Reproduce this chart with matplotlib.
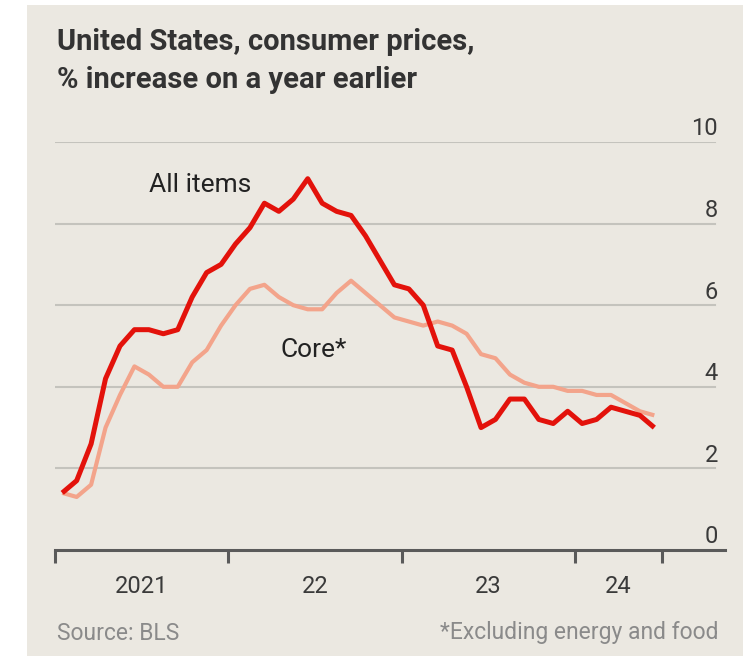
import matplotlib
matplotlib.use("Agg")
import matplotlib.pyplot as plt
from matplotlib.patches import Rectangle
from matplotlib import font_manager

# ---- data ----
start_year = 2021
all_items = [1.4, 1.7, 2.6, 4.2, 5.0, 5.4, 5.4, 5.3, 5.4, 6.2, 6.8, 7.0,
             7.5, 7.9, 8.5, 8.3, 8.6, 9.1, 8.5, 8.3, 8.2, 7.7, 7.1, 6.5,
             6.4, 6.0, 5.0, 4.9, 4.0, 3.0, 3.2, 3.7, 3.7, 3.2, 3.1, 3.4,
             3.1, 3.2, 3.5, 3.4, 3.3, 3.0]
core = [1.4, 1.3, 1.6, 3.0, 3.8, 4.5, 4.3, 4.0, 4.0, 4.6, 4.9, 5.5,
        6.0, 6.4, 6.5, 6.2, 6.0, 5.9, 5.9, 6.3, 6.6, 6.3, 6.0, 5.7,
        5.6, 5.5, 5.6, 5.5, 5.3, 4.8, 4.7, 4.3, 4.1, 4.0, 4.0, 3.9,
        3.9, 3.8, 3.8, 3.6, 3.4, 3.3]
y_ticks = [0, 2, 4, 6, 8, 10]
x_tick_pos = [2021, 2022, 2023, 2024, 2024.5]
x_label_pos = [2021.5, 2022.5, 2023.5, 2024.25]
x_labels = ["2021", "22", "23", "24"]

names = {f.name for f in font_manager.fontManager.ttflist}
fam = [f for f in ["Liberation Sans Narrow", "Roboto", "DejaVu Sans"] if f in names]
plt.rcParams['font.family'] = fam

W, H = 754, 656
fig = plt.figure(figsize=(W / 100, H / 100), dpi=100, facecolor="white")
bg = "#ebe8e1"
fig.patches.append(Rectangle((27 / W, 0), (743 - 27) / W, (H - 5) / H,
                             transform=fig.transFigure, facecolor=bg,
                             edgecolor="none", zorder=-10))

left, right, y0px, y10px = 55, 725, 550, 142
ax = fig.add_axes([left / W, (H - y0px) / H, (right - left) / W, (y0px - y10px) / H])
ax.set_zorder(5)
ax.set_facecolor("none")
xmax = start_year + (right - left) / 173.3
ax.set_xlim(start_year, xmax)
ax.set_ylim(0, 10)

x = [start_year + (i + 0.5) / 12 for i in range(len(all_items))]

grid_end = (715 - left) / (right - left)
for v in y_ticks:
    if v == 0:
        continue
    ax.axhline(v, xmin=0, xmax=grid_end, color="#c4c3bd", lw=1.5, zorder=1)

for v in y_ticks:
    ax.text((718 - left) / (right - left), v + 0.04, str(v), transform=ax.get_yaxis_transform(),
            ha="right", va="bottom", fontsize=17, color="#3a3a3a")

ax.plot(x, core, color="#f3a48b", lw=3.0, solid_joinstyle="round",
        solid_capstyle="butt", zorder=3)
ax.plot(x, all_items, color="#e3120b", lw=3.6, solid_joinstyle="round",
        solid_capstyle="butt", zorder=4)

ax.axhline(0, color="#5a5a5a", lw=2.2, zorder=5, clip_on=False)

for s in ax.spines.values():
    s.set_visible(False)
ax.set_yticks([])
ax.set_xticks(x_tick_pos)
ax.set_xticklabels([])
ax.tick_params(axis="x", length=9, width=2.2, color="#5a5a5a", direction="out")
for p, l in zip(x_label_pos, x_labels):
    ax.text(p, -0.62, l, ha="center", va="top", fontsize=17, color="#3a3a3a",
            transform=ax.transData)

ax.text(2021.84, 8.95, "All items", ha="center", va="center", fontsize=19, color="#222222")
ax.text(2022.49, 4.9, "Core*", ha="center", va="center", fontsize=19, color="#222222")

fig.text(57 / W, 1 - 42 / H, "United States, consumer prices,", ha="left", va="center",
         fontsize=21, fontweight="bold", color="#333333")
fig.text(57 / W, 1 - 80 / H, "% increase on a year earlier", ha="left", va="center",
         fontsize=21, fontweight="bold", color="#333333")
fig.text(57 / W, 1 - 633 / H, "Source: BLS", ha="left", va="center",
         fontsize=16.5, color="#8a8a8a")
fig.text(718 / W, 1 - 633 / H, "*Excluding energy and food", ha="right", va="center",
         fontsize=16.5, color="#8a8a8a")

fig.savefig("out.png", dpi=100, facecolor=fig.get_facecolor())
